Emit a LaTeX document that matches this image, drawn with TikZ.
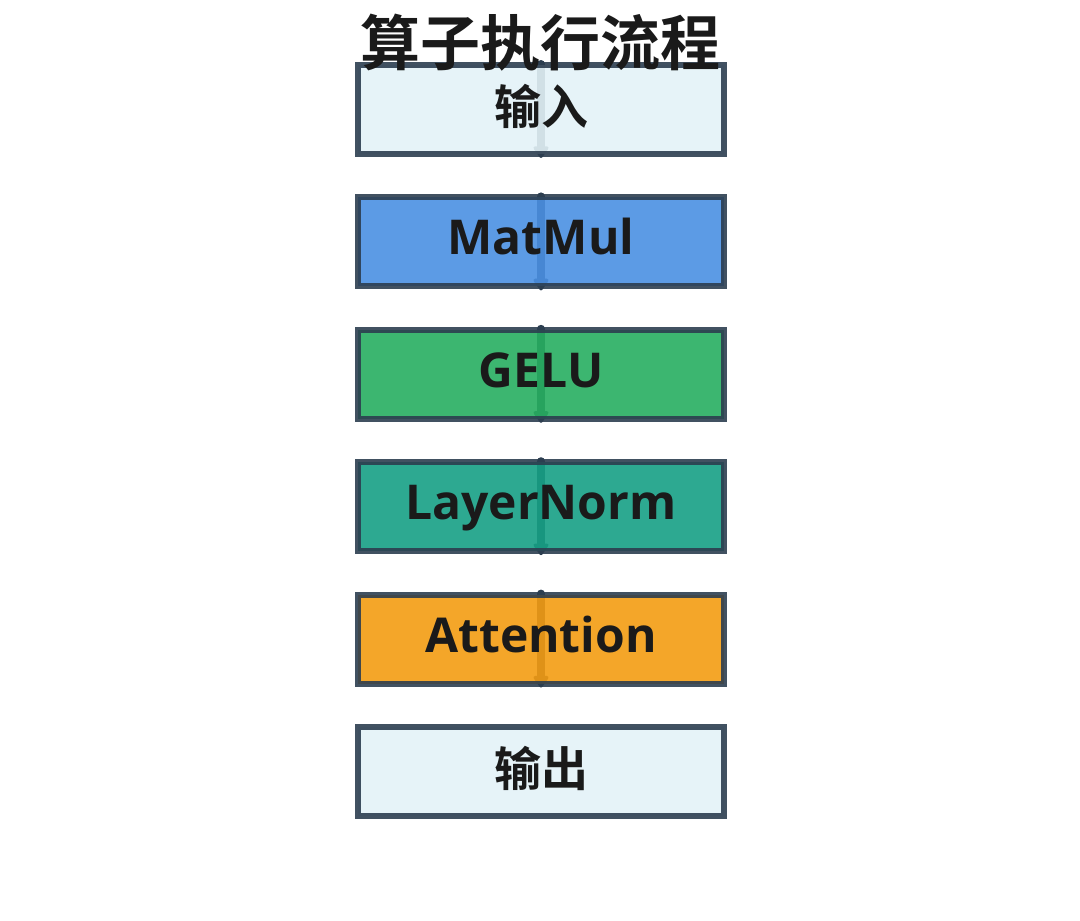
\documentclass[tikz,border=0pt]{standalone}
\usepackage{fontspec}
\setmainfont{Open Sans}[BoldFont={* Bold}]
\newfontfamily\cjk{Noto Sans CJK SC}[BoldFont={* Bold}]
\usetikzlibrary{arrows.meta}
\definecolor{bordercol}{HTML}{2C3E50}
\definecolor{inoutcol}{HTML}{E3F2F7}
\definecolor{matmulcol}{HTML}{4A90E2}
\definecolor{gelucol}{HTML}{27AE60}
\definecolor{lncol}{HTML}{16A085}
\definecolor{attncol}{HTML}{F39C12}
\definecolor{textcol}{HTML}{1A1A1A}
\tikzset{
  opbox/.style={draw=bordercol, draw opacity=0.9, line width=6pt, fill opacity=0.9,
    minimum width=366pt, minimum height=89pt, inner sep=0pt, outer sep=0pt, text opacity=1},
  oplabel/.style={text=textcol, font=\bfseries\fontsize{48}{52}\selectfont, inner sep=0pt, anchor=base},
  cjklabel/.style={text=textcol, font=\cjk\bfseries\fontsize{47}{50}\selectfont, inner sep=0pt},
  flowarrow/.style={draw=bordercol, line width=8pt, line cap=round, line join=round,
    -{Triangle[length=13pt, width=17pt, line join=round, round]}}
}
\begin{document}
\begin{tikzpicture}[x=1pt, y=-1pt]
\useasboundingbox (0,0) rectangle (1080,921);
% coordinates for box tops and bottoms
\foreach \i in {0,...,5}{
  \coordinate (t\i) at (541, {65+132.4*\i-1});
  \coordinate (b\i) at (541, {65+132.4*\i+89+4});
}
% arrows (behind translucent boxes)
\foreach \i in {0,...,4}{
  \draw[flowarrow] (t\i) -- (b\i);
}
% boxes
\node[opbox, fill=inoutcol]  (in)   at (541, {65+44.5}) {};
\node[opbox, fill=matmulcol] (mm)   at (541, {65+132.4+44.5}) {};
\node[opbox, fill=gelucol]   (gelu) at (541, {65+2*132.4+44.5}) {};
\node[opbox, fill=lncol]     (ln)   at (541, {65+3*132.4+44.5}) {};
\node[opbox, fill=attncol]   (attn) at (541, {65+4*132.4+44.5}) {};
\node[opbox, fill=inoutcol]  (out)  at (541, {65+5*132.4+44.5}) {};
% labels
\node[cjklabel] (lin)   at ([yshift=3pt]in.center)   {输入};
\node[oplabel]  (lmm)   at ([yshift=-13pt]mm.center)   {MatMul};
\node[oplabel]  (lgelu) at ([yshift=-13pt]gelu.center) {GELU};
\node[oplabel]  (lln)   at ([yshift=-13pt]ln.center)   {LayerNorm};
\node[oplabel]  (lattn) at ([yshift=-13pt]attn.center) {Attention};
\node[cjklabel] (lout)  at ([yshift=3pt]out.center)  {输出};
% title
\node[text=textcol, font=\cjk\bfseries\fontsize{60}{64}\selectfont, inner sep=0pt] (title) at (540,43) {算子执行流程};
\end{tikzpicture}
\end{document}
